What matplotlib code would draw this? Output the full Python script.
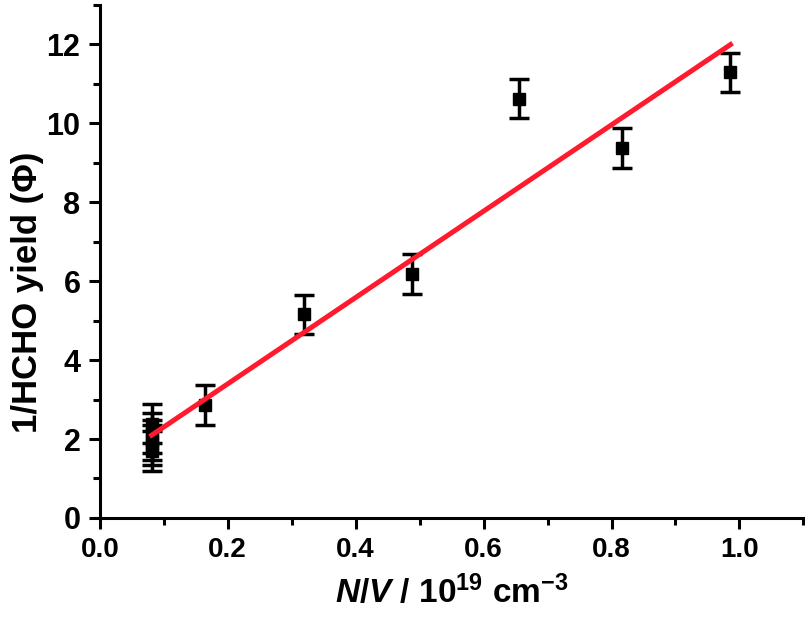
import numpy as np
import matplotlib.pyplot as plt
from matplotlib.ticker import MultipleLocator

# data
nv = [0.081, 0.081, 0.081, 0.081, 0.081, 0.164, 0.32, 0.4875, 0.656, 0.817, 0.986]
inv_yield = [1.70, 1.85, 1.97, 2.15, 2.39, 2.86, 5.16, 6.18, 10.63, 9.37, 11.29]
yerr = [0.5, 0.5, 0.5, 0.5, 0.5, 0.5, 0.5, 0.5, 0.5, 0.5, 0.5]

# linear fit
fit_slope = 10.94
fit_intercept = 1.21
fit_x = [0.081, 0.986]

plt.rcParams['font.family'] = ['Liberation Sans', 'DejaVu Sans']
plt.rcParams['font.weight'] = 'bold'
plt.rcParams['mathtext.fontset'] = 'custom'
plt.rcParams['mathtext.rm'] = 'Liberation Sans:bold'
plt.rcParams['mathtext.it'] = 'Liberation Sans:bold:italic'
plt.rcParams['mathtext.bf'] = 'Liberation Sans:bold'

fig = plt.figure(figsize=(8.05, 6.24), dpi=100)
ax = fig.add_axes([0.124, 0.170, 0.874, 0.822])

ax.errorbar(nv, inv_yield, yerr=yerr, fmt='s', color='black', ms=8,
            elinewidth=2.5, capsize=7, capthick=2.5, zorder=3)

fx = np.array(fit_x)
ax.plot(fx, fit_slope * fx + fit_intercept, color='#ff1a2e', lw=3.6, zorder=4)

ax.set_xlim(0, 1.1)
ax.set_ylim(0, 13)
ax.xaxis.set_major_locator(MultipleLocator(0.2))
ax.xaxis.set_minor_locator(MultipleLocator(0.1))
ax.yaxis.set_major_locator(MultipleLocator(2))
ax.yaxis.set_minor_locator(MultipleLocator(1))

for s in ['top', 'right']:
    ax.spines[s].set_visible(False)
for s in ['left', 'bottom']:
    ax.spines[s].set_linewidth(2.2)

ax.tick_params(which='major', direction='out', length=8, width=2.2, pad=6)
ax.tick_params(axis='y', which='major', labelsize=22)
ax.tick_params(axis='x', which='major', labelsize=20)
ax.tick_params(which='minor', direction='out', length=5, width=2.2)

for lab in ax.get_xticklabels() + ax.get_yticklabels():
    lab.set_fontweight('bold')

ax.set_ylabel('1/HCHO yield (Φ)', fontsize=25, fontweight='bold')
ax.yaxis.set_label_coords(-0.08, 0.44)
ax.set_xlabel(r'$\mathit{N/V}$ / 10$^{19}$ cm$^{-3}$', fontsize=24,
              fontweight='bold', labelpad=8)

fig.savefig('out.png', dpi=100)
